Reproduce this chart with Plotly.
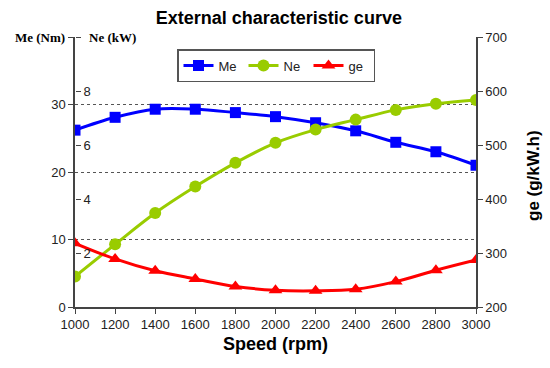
import plotly.graph_objects as go

speed = [1000, 1200, 1400, 1600, 1800, 2000, 2200, 2400, 2600, 2800, 3000]
me = [26.2, 28.1, 29.3, 29.3, 28.8, 28.2, 27.3, 26.1, 24.4, 23.0, 21.0]
ne = [1.13, 2.32, 3.48, 4.46, 5.34, 6.08, 6.57, 6.94, 7.30, 7.53, 7.67]
ge = [318, 289, 267, 252, 238, 231, 230, 233, 247, 268, 287]

x_ticks = list(range(1000, 3001, 200))
me_ticks = [0, 10, 20, 30]
ne_ticks = [2, 4, 6, 8, 10]
ne_ticktext = ["2", "4", "6", "8", ""]
ge_ticks = [200, 300, 400, 500, 600, 700]

FONT = "Liberation Sans, Arial, sans-serif"
SERIF = "Liberation Serif, Times New Roman, serif"
AX = "#444444"

fig = go.Figure()
fig.add_trace(go.Scatter(x=speed, y=me, name="Me", yaxis="y",
                         mode="lines+markers", line=dict(color="#0000FF", width=3, shape="spline"),
                         marker=dict(symbol="square", size=11, color="#0000FF")))
fig.add_trace(go.Scatter(x=speed, y=ne, name="Ne", yaxis="y2",
                         mode="lines+markers", line=dict(color="#99CC00", width=3, shape="spline"),
                         marker=dict(symbol="circle", size=12, color="#99CC00")))
fig.add_trace(go.Scatter(x=speed, y=ge, name="ge", yaxis="y3",
                         mode="lines+markers", line=dict(color="#FF0000", width=3, shape="spline"),
                         marker=dict(symbol="triangle-up", size=12, color="#FF0000")))

fig.update_layout(
    width=550, height=368,
    margin=dict(l=75, r=74, t=37, b=61, autoexpand=False),
    paper_bgcolor="white", plot_bgcolor="white",
    font=dict(family=FONT, size=13, color="#222222"),
    title=dict(text="<b>External characteristic curve</b>", x=0.507, xanchor="center",
               y=1 - 18 / 368, yanchor="middle", font=dict(size=18, color="#000000", family=FONT)),
    showlegend=True,
    legend=dict(orientation="h", x=(177 - 75) / 401, y=0.955, xanchor="left", yanchor="top",
                bordercolor="#555555", borderwidth=1.5, bgcolor="white",
                font=dict(size=13, color="#222222"), entrywidth=20, itemwidth=30),
    xaxis=dict(range=[1000, 3000], tickvals=x_ticks, showgrid=False, zeroline=False,
               showline=True, linecolor=AX, linewidth=1.5, ticks="outside", tickcolor=AX,
               ticklen=5, tickfont=dict(size=13), automargin=False,
               title=dict(text="<b>Speed (rpm)</b>", font=dict(size=18, color="#000000"), standoff=6)),
    yaxis=dict(range=[0, 40], tickvals=me_ticks, showgrid=True, gridcolor="#555555",
               griddash="dot", gridwidth=1, zeroline=False, showline=True, linecolor=AX,
               linewidth=1.5, ticks="outside", tickcolor=AX, ticklen=5, automargin=False,
               minor=dict(tickvals=[40], ticks="outside", ticklen=5, tickcolor=AX, showgrid=False),
               tickfont=dict(size=13)),
    yaxis2=dict(range=[0, 10], tickvals=ne_ticks, ticktext=ne_ticktext, overlaying="y",
                side="right", anchor="free", position=0, automargin=False,
                showgrid=False, zeroline=False, showline=False, ticks="outside", tickcolor=AX,
                ticklen=5, tickfont=dict(size=13)),
    yaxis3=dict(range=[200, 700], tickvals=ge_ticks, overlaying="y", side="right",
                showgrid=False, zeroline=False, showline=True, linecolor=AX, linewidth=1.5,
                ticks="outside", tickcolor=AX, ticklen=5, tickfont=dict(size=13), automargin=False),
)

fig.add_annotation(text="<b>Me (Nm)</b>", xref="paper", yref="paper", x=-0.02, y=1.0,
                   xanchor="right", yanchor="middle", showarrow=False,
                   font=dict(family=SERIF, size=13, color="#000000"))
fig.add_annotation(text="<b>Ne (kW)</b>", xref="paper", yref="paper", x=0.03, y=1.0,
                   xanchor="left", yanchor="middle", showarrow=False,
                   font=dict(family=SERIF, size=13, color="#000000"))
fig.add_annotation(text="<b>ge (g/kW.h)</b>", xref="paper", yref="paper", x=(533 - 75) / 401,
                   y=(307 - 176) / 270, xanchor="center", yanchor="middle", textangle=-90,
                   showarrow=False, font=dict(family=FONT, size=17, color="#000000"))

fig.write_html("out.html", config={"displayModeBar": False},
               post_script="document.body.style.margin='0px';document.body.style.overflow='hidden';")
